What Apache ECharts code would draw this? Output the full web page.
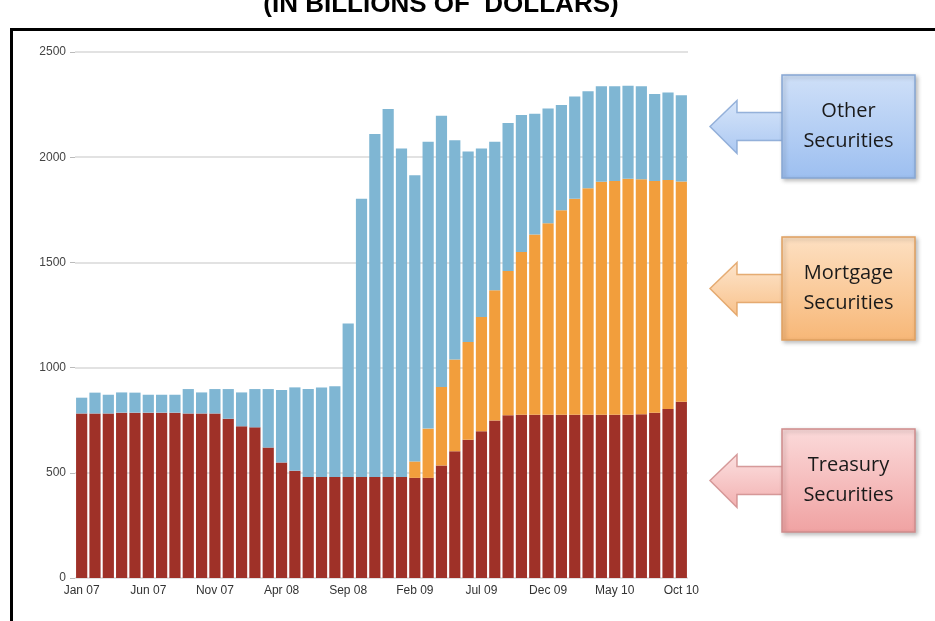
<!DOCTYPE html>
<html>
<head>
<meta charset="utf-8">
<script src="https://cdn.jsdelivr.net/npm/echarts@6/dist/echarts.min.js"></script>
<style>
  html, body { margin: 0; padding: 0; background: #fff; }
  #main { width: 935px; height: 621px; }
</style>
</head>
<body>
<div id="main"></div>
<script>
// months Jan 07 .. Oct 10
var months = ['Jan 07', 'Feb 07', 'Mar 07', 'Apr 07', 'May 07', 'Jun 07', 'Jul 07', 'Aug 07', 'Sep 07', 'Oct 07', 'Nov 07', 'Dec 07',
    'Jan 08', 'Feb 08', 'Mar 08', 'Apr 08', 'May 08', 'Jun 08', 'Jul 08', 'Aug 08', 'Sep 08', 'Oct 08', 'Nov 08', 'Dec 08',
    'Jan 09', 'Feb 09', 'Mar 09', 'Apr 09', 'May 09', 'Jun 09', 'Jul 09', 'Aug 09', 'Sep 09', 'Oct 09', 'Nov 09', 'Dec 09',
    'Jan 10', 'Feb 10', 'Mar 10', 'Apr 10', 'May 10', 'Jun 10', 'Jul 10', 'Aug 10', 'Sep 10', 'Oct 10'];

// billions of dollars
var treasury = [782, 782, 782, 786, 786, 786, 786, 786, 782, 782, 782, 757,
    721, 716, 620, 549, 510, 480, 480, 480, 480, 480, 480, 480,
    480, 476, 476, 535, 602, 657, 697, 749, 773, 776, 776, 776,
    776, 776, 776, 776, 776, 776, 778, 786, 803, 838];

var mortgage = [0, 0, 0, 0, 0, 0, 0, 0, 0, 0, 0, 0,
    0, 0, 0, 0, 0, 0, 0, 0, 0, 0, 0, 0,
    0, 78, 234, 373, 436, 465, 544, 619, 686, 773, 857, 910,
    972, 1027, 1076, 1107, 1111, 1122, 1117, 1101, 1089, 1046];

var other = [75, 99, 89, 96, 95, 85, 85, 85, 116, 100, 116, 141,
    161, 182, 278, 344, 396, 418, 426, 431, 730, 1323, 1630, 1749,
    1561, 1360, 1363, 1289, 1043, 905, 800, 705, 703, 651, 573, 546,
    500, 486, 462, 454, 450, 442, 442, 413, 416, 411];

var yTicks = [0, 500, 1000, 1500, 2000, 2500];

var colors = {treasury: '#9f3128', mortgage: '#f29e3c', other: '#7fb6d3'};

// callout boxes on the right
function callout(top, label, c1, c2, line) {
    var bh = 103, bx = 782, bw = 133, mid = top + bh / 2;
    return [
        {
            type: 'polygon',
            shape: {points: [[710, mid], [737, mid - 26], [737, mid - 14], [784, mid - 14],
                [784, mid + 14], [737, mid + 14], [737, mid + 27]]},
            style: {
                fill: new echarts.graphic.LinearGradient(0, 0, 0, 1, [{offset: 0, color: c1}, {offset: 1, color: c2}]),
                stroke: line, lineWidth: 1.5, opacity: 0.85
            }
        },
        {
            type: 'rect',
            shape: {x: bx, y: top, width: bw, height: bh},
            style: {
                fill: new echarts.graphic.LinearGradient(0, 0, 0, 1, [{offset: 0, color: c1}, {offset: 1, color: c2}]),
                stroke: line, lineWidth: 1.5,
                shadowBlur: 4, shadowOffsetX: 2, shadowOffsetY: 2, shadowColor: 'rgba(0,0,0,0.25)'
            }
        },
        {
            type: 'text',
            x: bx + bw / 2, y: mid,
            style: {
                text: label, fill: '#1a1a1a', font: '20px "Open Sans", sans-serif',
                textAlign: 'center', textVerticalAlign: 'middle', lineHeight: 30
            }
        }
    ];
}

var chart = echarts.init(document.getElementById('main'));

var graphics = [
    {
        type: 'text', x: 441, y: 18,
        style: {
            text: '(IN BILLIONS OF  DOLLARS)', fill: '#000',
            font: 'bold 26px "Liberation Sans", sans-serif',
            textAlign: 'center', textVerticalAlign: 'bottom'
        }
    },
    {
        type: 'rect',
        shape: {x: 11.5, y: 29.5, width: 1000, height: 700},
        style: {fill: 'none', stroke: '#000', lineWidth: 3}
    }
].concat(
    callout(75, 'Other\nSecurities', '#cfe0f8', '#9dbff0', '#86a6d4'),
    callout(237, 'Mortgage\nSecurities', '#fde0c2', '#f7b777', '#e0a060'),
    callout(429, 'Treasury\nSecurities', '#fbdada', '#f0a2a2', '#cf8c8c')
);

option = {
    animation: false,
    backgroundColor: '#fff',
    grid: {left: 75, right: 247, top: 52, bottom: 43},
    xAxis: {
        type: 'category',
        data: months,
        axisLine: {show: false},
        axisTick: {show: false},
        axisLabel: {
            interval: 4,
            margin: 7,
            color: '#333',
            fontSize: 12,
            fontFamily: 'Liberation Sans'
        }
    },
    yAxis: {
        type: 'value',
        min: yTicks[0],
        max: yTicks[yTicks.length - 1],
        interval: 500,
        axisLine: {show: false},
        axisTick: {show: true, length: 5, lineStyle: {color: '#bbb'}},
        axisLabel: {
            color: '#444', fontSize: 12, fontFamily: 'Liberation Sans', margin: 9,
            formatter: function (v) { return String(v); }
        },
        splitLine: {lineStyle: {color: '#e2e2e2', width: 2}}
    },
    series: [
        {
            name: 'Treasury Securities', type: 'bar', stack: 'all',
            data: treasury, barCategoryGap: '16%',
            itemStyle: {color: colors.treasury}
        },
        {
            name: 'Mortgage Securities', type: 'bar', stack: 'all',
            data: mortgage,
            itemStyle: {color: colors.mortgage}
        },
        {
            name: 'Other Securities', type: 'bar', stack: 'all',
            data: other,
            itemStyle: {color: colors.other}
        }
    ],
    graphic: graphics
};

chart.setOption(option);
</script>
</body>
</html>
